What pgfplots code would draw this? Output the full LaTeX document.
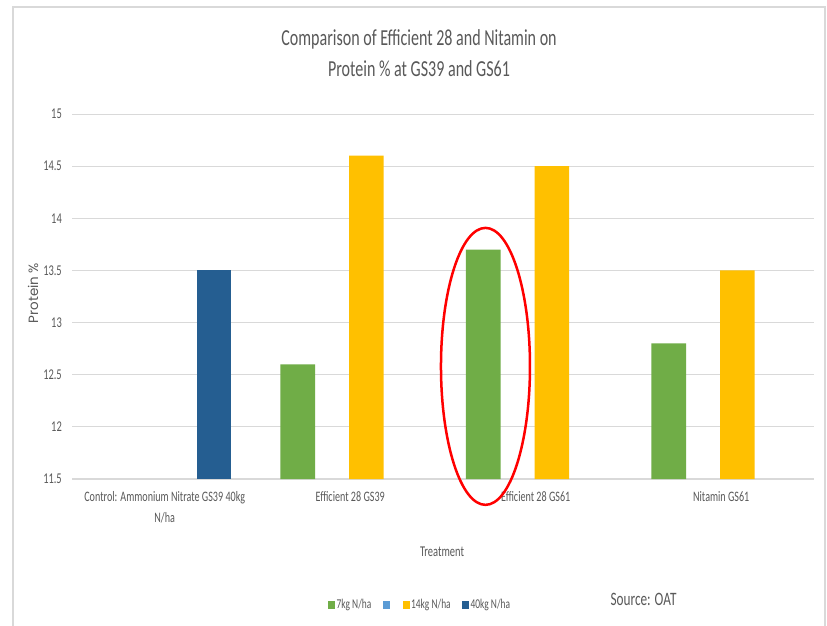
\documentclass[border=0pt]{standalone}
\usepackage{fontspec}
\setmainfont{Carlito}[FakeStretch=0.70]
\newfontfamily\ylabfont{Poppins}
\usepackage{pgfplots}
\pgfplotsset{compat=1.18}

\definecolor{txt}{HTML}{595959}
\definecolor{gridgray}{HTML}{D9D9D9}
\definecolor{bordergray}{HTML}{D9D9D9}
\definecolor{green7}{HTML}{70AD47}
\definecolor{lblue}{HTML}{5B9BD5}
\definecolor{gold14}{HTML}{FFC000}
\definecolor{dblue40}{HTML}{255E91}

\begin{document}
\begin{tikzpicture}
\useasboundingbox (0,0) rectangle (827bp,-626bp);
\fill[white] (0,0) rectangle (827bp,-626bp);
\draw[bordergray, line width=1.2bp] (13bp,-626bp) -- (13bp,-7bp) -- (825bp,-7bp) -- (825bp,-626bp);

\begin{axis}[
    at={(72bp,-479bp)}, anchor=south west,
    scale only axis, width=742bp, height=365bp,
    xmin=-0.5, xmax=3.5, ymin=11.5, ymax=15,
    axis x line*=bottom, axis y line*=left,
    x axis line style={-, draw=gridgray, line width=1.2bp},
    y axis line style={draw=none},
    tick style={draw=none},
    ymajorgrids, grid style={gridgray, line width=1bp},
    xtick={0,1,2,3},
    xticklabels={{Control: Ammonium Nitrate GS39 40kg\\N/ha}, Efficient 28 GS39, Efficient 28 GS61, Nitamin GS61},
    xticklabel style={align=center, inner sep=0pt, anchor=north, yshift=-12bp,
        font=\fontsize{14.5}{21}\selectfont, text=txt},
    ytick={11.5,12,12.5,13,13.5,14,14.5,15},
    yticklabel style={inner sep=0pt, anchor=east, xshift=-10bp,
        font=\fontsize{15}{18}\selectfont, text=txt},
    /pgf/number format/assume math mode=true,
    /pgf/number format/fixed,
    title={Comparison of Efficient 28 and Nitamin on\\Protein \% at GS39 and GS61},
    title style={at={(axis description cs:0.4677,1.1562)}, anchor=center, align=center,
        yshift=-2.5bp, font=\fontsize{23}{31}\selectfont, text=txt},
    xlabel={Treatment},
    xlabel style={at={(axis description cs:0.4987,-0.2)}, anchor=center,
        font=\fontsize{15}{18}\selectfont, text=txt},
    ylabel={Protein \%},
    ylabel style={at={(axis description cs:-0.0526,0.5096)}, anchor=center,
        font=\ylabfont\fontsize{13.5}{16}\selectfont, text=txt},
    legend columns=4,
    legend style={at={(0.341,-0.345)}, anchor=west, draw=none, fill=none,
        font=\fontsize{13.5}{16}\selectfont, text=txt,
        /tikz/every even column/.append style={column sep=9.5bp}},
]
\addlegendimage{legend image code/.code={\fill[green7] (0bp,-3.5bp) rectangle (6bp,3.5bp);}}
\addlegendimage{legend image code/.code={\fill[lblue] (0bp,-3.5bp) rectangle (6bp,3.5bp);}}
\addlegendimage{legend image code/.code={\fill[gold14] (0bp,-3.5bp) rectangle (6bp,3.5bp);}}
\addlegendimage{legend image code/.code={\fill[dblue40] (0bp,-3.5bp) rectangle (6bp,3.5bp);}}

% 7kg N/ha
\addplot[ybar, bar width=0.187, bar shift=-0.283, fill=green7, draw=none, forget plot]
    coordinates {(1,12.6) (2,13.7) (3,12.8)};
% 14kg N/ha
\addplot[ybar, bar width=0.187, bar shift=0.087, fill=gold14, draw=none, forget plot]
    coordinates {(1,14.6) (2,14.5) (3,13.5)};
% 40kg N/ha
\addplot[ybar, bar width=0.187, bar shift=0.265, fill=dblue40, draw=none, forget plot]
    coordinates {(0,13.5)};

\legend{7kg N/ha, \mbox{}, 14kg N/ha, 40kg N/ha}
\coordinate (ell) at (axis cs:1.729,12.58);
\end{axis}

\draw[red, line width=2.5bp] (ell) ellipse [x radius=44.5bp, y radius=138.5bp];
\node[text=txt, font=\fontsize{19}{22}\selectfont] at (643.5bp,-599bp) {Source: OAT};
\end{tikzpicture}
\end{document}
